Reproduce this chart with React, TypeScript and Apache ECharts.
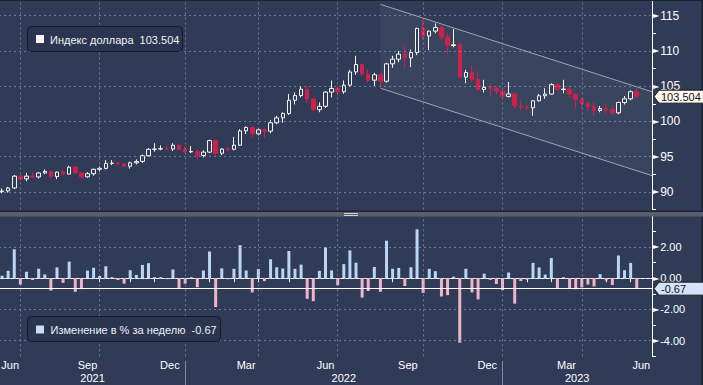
import React, { useEffect, useRef } from 'react';
import * as echarts from 'echarts';

// ---------- data ----------
const firstWeekEnding = [2021, 5, 4]; // Fri 4 Jun 2021 (UTC year, monthIndex, day)
const weekCount = 107; // 105 weekly candles + 2 empty weeks on the right

// weekly candles: [open, close, low, high]
const dxyOHLC: number[][] = [
  [90.03, 90.13, 89.8, 90.5], [90.13, 90.55, 89.9, 90.7], [90.55, 92.23, 90.4, 92.4], [92.23, 91.85, 91.5, 92.4],
  [91.85, 92.23, 91.5, 92.7], [92.23, 92.12, 91.9, 92.8], [92.12, 92.68, 91.9, 92.8], [92.68, 92.9, 92.5, 93.2],
  [92.9, 92.17, 91.8, 93.0], [92.17, 92.8, 91.8, 92.9], [92.8, 92.52, 92.4, 93.2], [92.52, 93.5, 92.5, 93.7],
  [93.5, 92.69, 92.6, 93.7], [92.69, 92.13, 91.9, 92.8], [92.13, 92.58, 92.0, 92.8], [92.58, 93.2, 92.3, 93.3],
  [93.2, 93.33, 92.9, 93.6], [93.33, 94.04, 93.2, 94.5], [94.04, 94.08, 93.8, 94.5], [94.08, 93.97, 93.7, 94.3],
  [93.97, 93.64, 93.5, 94.1], [93.64, 94.12, 93.3, 94.3], [94.12, 94.32, 93.9, 94.6], [94.32, 95.12, 94.1, 95.3],
  [95.12, 96.03, 95.0, 96.2], [96.03, 96.08, 95.7, 96.9], [96.08, 96.13, 95.9, 96.6], [96.13, 96.08, 95.9, 96.5],
  [96.08, 96.62, 95.8, 96.9], [96.62, 96.01, 95.9, 96.7], [96.01, 95.67, 95.5, 96.4], [95.67, 95.73, 95.5, 96.5],
  [95.73, 95.17, 94.6, 96.0], [95.17, 95.64, 94.9, 95.9], [95.64, 97.28, 95.5, 97.4], [97.28, 95.48, 95.1, 97.4],
  [95.48, 96.08, 95.2, 96.2], [96.08, 96.04, 95.7, 96.4], [96.04, 96.62, 95.9, 97.8], [96.62, 98.65, 96.5, 98.9],
  [98.65, 99.13, 98.2, 99.3], [99.13, 98.23, 97.7, 99.4], [98.23, 98.8, 98.0, 99.0], [98.8, 98.61, 97.7, 99.0],
  [98.61, 99.8, 98.3, 100.2], [99.8, 100.5, 99.6, 100.8], [100.5, 101.12, 99.8, 101.3], [101.12, 103.0, 100.9, 103.9],
  [103.0, 103.66, 102.4, 104.1], [103.66, 104.56, 103.4, 105.0], [104.56, 103.18, 102.6, 105.0], [103.18, 101.66, 101.4, 103.3],
  [101.66, 102.14, 101.3, 102.7], [102.14, 104.15, 101.9, 104.3], [104.15, 104.67, 103.4, 105.8], [104.67, 104.2, 103.7, 104.9],
  [104.2, 105.14, 103.9, 105.8], [105.14, 107.01, 104.9, 107.3], [107.01, 108.07, 106.6, 109.3], [108.07, 106.73, 106.4, 108.2],
  [106.73, 105.85, 105.5, 107.4], [105.85, 106.61, 105.0, 106.9], [106.61, 105.69, 104.6, 106.8], [105.69, 108.16, 105.5, 108.3],
  [108.16, 108.82, 107.6, 109.3], [108.82, 109.54, 108.4, 110.0], [109.54, 109.0, 107.6, 110.8], [109.0, 109.76, 107.7, 110.2],
  [109.76, 113.19, 109.4, 113.3], [113.19, 112.12, 111.6, 114.8], [112.12, 112.8, 110.1, 112.9], [112.8, 113.31, 112.5, 113.9],
  [113.31, 111.98, 111.6, 113.9], [111.98, 110.76, 109.5, 112.5], [110.76, 110.87, 110.5, 113.1], [110.87, 106.29, 106.2, 111.2],
  [106.29, 106.93, 105.4, 107.3], [106.93, 105.96, 105.6, 107.9], [105.96, 104.52, 104.4, 107.2], [104.52, 104.82, 104.1, 105.9],
  [104.82, 104.7, 103.5, 105.3], [104.7, 104.31, 103.8, 104.9], [104.31, 103.52, 103.4, 104.6], [103.52, 103.89, 103.4, 105.6],
  [103.89, 102.2, 101.8, 103.9], [102.2, 102.02, 101.5, 102.9], [102.02, 101.92, 101.5, 102.4], [101.92, 102.92, 100.8, 103.0],
  [102.92, 103.63, 102.8, 103.9], [103.63, 103.87, 103.2, 104.7], [103.87, 105.21, 103.8, 105.4], [105.21, 104.52, 104.3, 105.4],
  [104.52, 104.58, 104.0, 105.9], [104.58, 103.86, 103.4, 105.1], [103.86, 103.12, 101.9, 103.9], [103.12, 102.51, 101.9, 103.3],
  [102.51, 102.09, 101.4, 102.8], [102.09, 101.55, 100.8, 102.8], [101.55, 101.81, 101.3, 102.2], [101.81, 101.66, 101.1, 102.4],
  [101.66, 101.21, 100.8, 102.2], [101.21, 102.68, 101.0, 102.8], [102.68, 103.2, 102.4, 103.6], [103.2, 104.21, 103.0, 104.4],
  [104.21, 103.5, 103.4, 104.7],
];

// weekly % change
const weeklyChange: number[] = [
  0.15, 0.47, 1.85, -0.41, 0.41, -0.12, 0.61, 0.24, -0.79, 0.69,
  -0.3, 1.06, -0.87, -0.7, 0.49, 0.67, 0.14, 0.76, 0.04, -0.12,
  -0.35, 0.51, 0.21, 0.85, 0.96, 0.05, 0.05, -0.05, 0.56, -0.63,
  -0.35, 0.06, -0.58, 0.49, 1.71, -1.85, 0.63, -0.04, 0.6, 2.11,
  0.49, -0.91, 0.59, -0.19, 1.21, 0.7, 0.62, 1.74, 0.6, 0.87,
  -1.32, -1.47, 0.47, 1.97, 0.5, -0.45, 0.9, 1.78, 0.99, -1.24,
  -0.82, 0.72, -0.87, 2.4, 0.61, 0.66, -0.5, 0.7, 3.13, -0.94,
  0.6, 0.45, -1.17, -1.09, 0.1, -4.13, 0.6, -0.91, -1.36, 0.29,
  -0.11, -0.37, -0.76, 0.36, -1.63, -0.18, -0.1, 0.98, 0.69, 0.23,
  1.29, -0.66, 0.06, -0.69, -0.71, -0.59, -0.41, -0.53, 0.26, -0.15,
  -0.44, 1.45, 0.51, 0.98, -0.67,
];

// descending channel (week index, upper value, lower value)
const channelIndex = [62, 104];
const channelUpper = [116.6, 104.9];
const channelLower = [104.7, 93.0];

const priceGridValues = [90, 95, 100, 105, 110, 115];
const changeGridValues = [2, 0, -2, -4];
const monthTickMonths = [3, 6, 9, 12];
const monthTickLabels = ['Mar', 'Jun', 'Sep', 'Dec'];
const yearLabels = ['2021', '2022', '2023'];

const lastPrice = 103.504;
const lastChange = -0.67;
const priceLegend = 'Индекс доллара  103.504';
const changeLegend = 'Изменение в % за неделю  -0.67';

// ---------- style ----------
const BG = '#2f3b57';
const RED = '#cf1f4b';
const UP_EDGE = '#f4f4f4';
const BAR_UP = '#bcd5f5';
const BAR_DOWN = '#f1b4c6';
const GRID_C = 'rgba(160,172,198,0.55)';
const FONT = '"Liberation Sans", Arial, sans-serif';

const DAY = 86400000;
const weekDate = (i: number) =>
  new Date(Date.UTC(firstWeekEnding[0], firstWeekEnding[1], firstWeekEnding[2]) + i * 7 * DAY);
const ymd = (d: Date) => d.toISOString().slice(0, 10);
const monthOf = (i: number) => weekDate(i).getUTCMonth() + 1;
const yearOf = (i: number) => weekDate(i).getUTCFullYear();

export default function App() {
  const ref = useRef<HTMLDivElement>(null);

  useEffect(() => {
    const el = ref.current!;
    const chart = echarts.init(el, null, { renderer: 'svg' });

    const dates: string[] = [];
    for (let i = 0; i < weekCount; i++) dates.push(ymd(weekDate(i)));

    const monthEnds = new Set<number>();
    for (let i = 0; i < weekCount; i++) if (monthOf(i) !== monthOf(i + 1)) monthEnds.add(i);
    const quarterEnds = [...monthEnds].filter((i) => monthTickMonths.includes(monthOf(i)));
    const yearEnds = [...monthEnds].filter((i) => monthOf(i) === 12);

    const gridLineStyle = { color: GRID_C, type: [2, 3], width: 1 };

    const option: any = {
      animation: false,
      backgroundColor: BG,
      textStyle: { fontFamily: FONT },
      grid: [
        { left: -1, right: 51, top: -2, height: 211.5, containLabel: false, outerBoundsMode: 'none' },
        { left: -1, right: 51, top: 215.7, height: 140.6, containLabel: false, outerBoundsMode: 'none' },
      ],
      xAxis: [
        { type: 'category', gridIndex: 0, data: dates, boundaryGap: true, show: false },
        {
          type: 'category', gridIndex: 1, data: dates, boundaryGap: true,
          axisLine: { show: true, lineStyle: { color: '#ffffff', width: 1 } },
          axisTick: {
            show: true, alignWithLabel: true, length: 4,
            interval: (i: number) => monthEnds.has(i),
            lineStyle: { color: '#ffffff' },
          },
          axisLabel: { show: false },
          splitLine: { show: false },
        },
      ],
      yAxis: [
        {
          type: 'value', gridIndex: 0, position: 'right', min: 87.5, max: 117.5, interval: 2.5,
          axisLine: { show: true, lineStyle: { color: '#ffffff' } },
          axisTick: { show: true, length: 4, lineStyle: { color: '#ffffff' } },
          axisLabel: {
            margin: 1,
            formatter: (v: number) => (Math.abs(v % 5) < 1e-6 && v >= 90 && v <= 115 ? `{t|►}{v|${v}}` : ''),
            rich: {
              t: { fontSize: 8, color: '#ffffff', fontFamily: 'DejaVu Sans', padding: [0, 1, 0, 0] },
              v: { fontSize: 12, color: '#ffffff', fontFamily: FONT },
            },
          },
          splitLine: { show: false },
        },
        {
          type: 'value', gridIndex: 1, position: 'right', min: -5, max: 4, interval: 1,
          axisLine: { show: true, lineStyle: { color: '#ffffff' } },
          axisTick: { show: true, length: 4, lineStyle: { color: '#ffffff' } },
          axisLabel: {
            margin: 1,
            formatter: (v: number) => {
              const r = Math.round(v);
              return r % 2 === 0 && r <= 2 && r >= -4 ? `{t|►}{v|${(r === 0 ? 0 : r).toFixed(2)}}` : '';
            },
            rich: {
              t: { fontSize: 8, color: '#ffffff', fontFamily: 'DejaVu Sans', padding: [0, 1, 0, 0] },
              v: { fontSize: 11, color: '#ffffff', fontFamily: FONT },
            },
          },
          splitLine: { show: false },
        },
      ],
      series: [
        {
          type: 'line', xAxisIndex: 0, yAxisIndex: 0, z: 1, silent: true,
          data: dxyOHLC.map((d) => d[1]), symbol: 'none', lineStyle: { opacity: 0, width: 0 },
          markLine: {
            silent: true, symbol: ['none', 'none'], label: { show: false }, lineStyle: gridLineStyle,
            emphasis: { disabled: true },
            data: [
              ...priceGridValues.map((v) => ({ yAxis: v })),
              ...quarterEnds.map((i) => ({ xAxis: dates[i] })),
            ],
          },
        },
        {
          type: 'custom', xAxisIndex: 0, yAxisIndex: 0, z: 2, silent: true,
          data: [[channelIndex[0], channelUpper[0]]],
          renderItem: (params: any, api: any) => {
            const cs = params.coordSys;
            const p1 = api.coord([channelIndex[0], channelUpper[0]]);
            const p2 = api.coord([channelIndex[1], channelUpper[1]]);
            const q1 = api.coord([channelIndex[0], channelLower[0]]);
            const q2 = api.coord([channelIndex[1], channelLower[1]]);
            const xr = cs.x + cs.width;
            const ext = (a: number[], b: number[]) => [xr, a[1] + ((b[1] - a[1]) * (xr - a[0])) / (b[0] - a[0])];
            const pe = ext(p1, p2);
            const qe = ext(q1, q2);
            return {
              type: 'group',
              children: [
                { type: 'polygon', shape: { points: [p1, pe, qe, q1] }, style: { fill: 'rgba(255,255,255,0.05)' } },
                { type: 'line', shape: { x1: p1[0], y1: p1[1], x2: pe[0], y2: pe[1] }, style: { stroke: 'rgba(190,198,215,0.75)', lineWidth: 1 } },
                { type: 'line', shape: { x1: q1[0], y1: q1[1], x2: qe[0], y2: qe[1] }, style: { stroke: 'rgba(190,198,215,0.75)', lineWidth: 1 } },
              ],
            };
          },
        },
        {
          type: 'candlestick', xAxisIndex: 0, yAxisIndex: 0, z: 3, barWidth: 4,
          data: dxyOHLC,
          itemStyle: { color: BG, color0: RED, borderColor: UP_EDGE, borderColor0: RED, borderWidth: 1 },
        },
        {
          type: 'line', xAxisIndex: 1, yAxisIndex: 1, z: 1, silent: true,
          data: weeklyChange, symbol: 'none', lineStyle: { opacity: 0, width: 0 },
          markLine: {
            silent: true, symbol: ['none', 'none'], label: { show: false }, lineStyle: gridLineStyle,
            emphasis: { disabled: true },
            data: [
              ...changeGridValues.map((v) => ({ yAxis: v })),
              ...quarterEnds.map((i) => ({ xAxis: dates[i] })),
            ],
          },
        },
        {
          type: 'bar', xAxisIndex: 1, yAxisIndex: 1, z: 2, barWidth: 3, barMinHeight: 1,
          data: weeklyChange.map((v) => ({ value: v, itemStyle: { color: v >= 0 ? BAR_UP : BAR_DOWN } })),
          markLine: {
            silent: true, symbol: ['none', 'none'], label: { show: false },
            emphasis: { disabled: true },
            lineStyle: { color: '#ffffff', type: 'solid', width: 1 },
            data: [{ yAxis: lastChange }],
          },
        },
      ],
    };

    chart.setOption(option);

    // ---- decorations positioned through the axes ----
    const px0 = chart.convertToPixel({ xAxisIndex: 1 }, 0) as number;
    const bw = (chart.convertToPixel({ xAxisIndex: 1 }, 1) as number) - px0;
    const pxAt = (i: number) => px0 + i * bw;
    const leftB = 0;
    const rightB = pxAt(weekCount - 1) + bw / 2;

    const txt = (x: number, y: number, text: string, size: number, color: string, align = 'center') => ({
      type: 'text', x, y, z: 100,
      style: {
        text, fill: color, fontSize: size, fontFamily: FONT,
        align, verticalAlign: 'middle', textAlign: align, textVerticalAlign: 'middle',
      },
    });

    const g: any[] = [];
    // month labels
    for (let i = 0; i < weekCount; i++) {
      const m = monthOf(i);
      if (i > 0 && monthOf(i - 1) === m) continue;
      const k = monthTickMonths.indexOf(m);
      if (k < 0) continue;
      let l = i;
      while (monthOf(l + 1) === m) l++;
      const a = Math.max(pxAt(i - 1), leftB);
      const b = Math.min(pxAt(l), rightB);
      g.push(txt((a + b) / 2, 364.5, monthTickLabels[k], 11, '#ffffff'));
    }
    // year labels
    yearLabels.forEach((y) => {
      const yr = Number(y);
      let f = -1, l = -1;
      for (let i = 0; i < weekCount; i++) if (yearOf(i) === yr) { if (f < 0) f = i; l = i; }
      if (f < 0) return;
      const a = Math.max(pxAt(f - 1), leftB);
      const b = Math.min(yearOf(l + 1) !== yr ? pxAt(l) : rightB, rightB);
      g.push(txt((a + b) / 2, 377.5, y, 11, '#ffffff'));
    });
    // year dividers
    yearEnds.forEach((i) => {
      const x = Math.round(pxAt(i)) + 0.5;
      g.push({ type: 'line', z: 100, shape: { x1: x, y1: 361, x2: x, y2: 385 }, style: { stroke: '#7f889c', lineWidth: 1 } });
    });

    // frame strips & separator
    g.push({ type: 'rect', z: 100, shape: { x: 0, y: 0, width: 703, height: 1 }, style: { fill: '#1c2334' } });
    g.push({ type: 'rect', z: 100, shape: { x: 701.5, y: 0, width: 1.5, height: 385 }, style: { fill: '#1c2334' } });
    g.push({ type: 'rect', z: 100, shape: { x: 0, y: 210.5, width: 703, height: 1.5 }, style: { fill: '#1c2437' } });
    g.push({ type: 'rect', z: 100, shape: { x: 0, y: 212, width: 703, height: 4.5 }, style: { fill: '#585e6b' } });
    g.push({ type: 'rect', z: 101, shape: { x: 344, y: 213, width: 14, height: 1 }, style: { fill: '#d2d2d2' } });
    g.push({ type: 'rect', z: 101, shape: { x: 344, y: 215, width: 14, height: 1 }, style: { fill: '#d2d2d2' } });

    // legend boxes
    g.push({ type: 'rect', z: 100, shape: { x: 27.5, y: 26.5, width: 155, height: 25, r: 4 }, style: { fill: '#2a3550', stroke: '#131a29', lineWidth: 1 } });
    g.push({ type: 'rect', z: 101, shape: { x: 36, y: 35, width: 8, height: 8 }, style: { fill: '#fdf2ee' } });
    g.push(txt(50, 39.5, priceLegend, 11, '#eef1f7', 'left'));
    g.push({ type: 'rect', z: 100, shape: { x: 27.5, y: 316.5, width: 193, height: 25, r: 4 }, style: { fill: '#2a3550', stroke: '#131a29', lineWidth: 1 } });
    g.push({ type: 'rect', z: 101, shape: { x: 36, y: 325.5, width: 8, height: 8 }, style: { fill: '#c9ddf8' } });
    g.push(txt(50.5, 329.5, changeLegend, 11, '#eef1f7', 'left'));

    // value tags
    const axisX = rightB + 1;
    const tag = (yc: number, fill: string, text: string) => {
      g.push({
        type: 'polygon', z: 102,
        shape: { points: [[axisX + 1, yc], [axisX + 6, yc - 6.5], [704, yc - 6.5], [704, yc + 6.5], [axisX + 6, yc + 6.5]] },
        style: { fill, stroke: '#1a1a1a', lineWidth: 1 },
      });
      g.push({ ...txt(axisX + 8, yc + 0.5, text, 11, '#111111', 'left'), z: 103 });
    };
    tag(chart.convertToPixel({ yAxisIndex: 0 }, lastPrice) as number, '#fff7ef', lastPrice.toFixed(3));
    tag(chart.convertToPixel({ yAxisIndex: 1 }, lastChange) as number, '#d2e3fb', lastChange.toFixed(2));

    chart.setOption({ graphic: g });

    return () => chart.dispose();
  }, []);

  return (
    <div
      ref={ref}
      style={{ position: 'fixed', left: 0, top: 0, width: 703, height: 385, background: BG }}
    />
  );
}
